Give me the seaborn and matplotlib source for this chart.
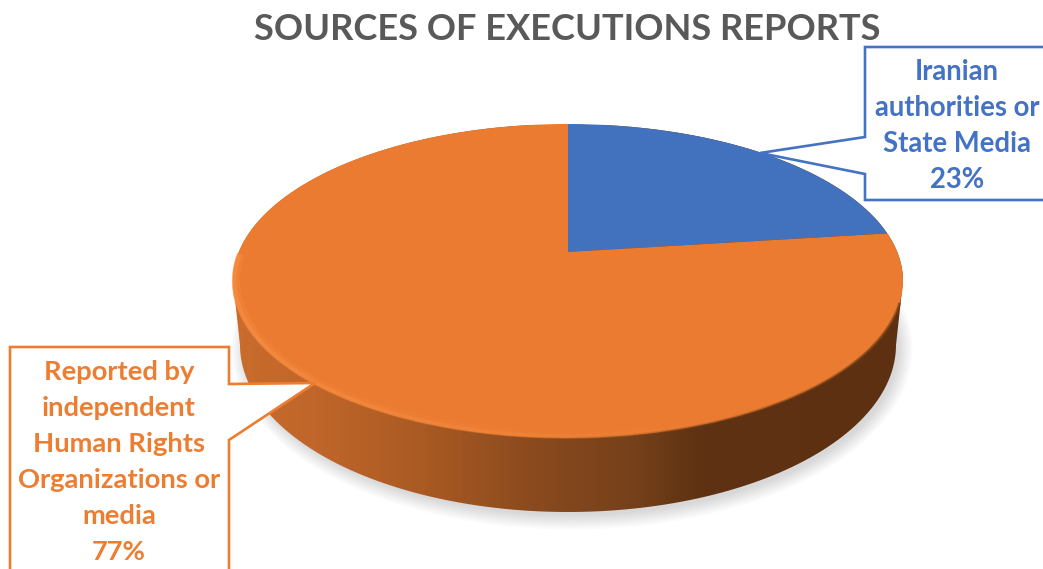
import numpy as np
import seaborn as sns
import matplotlib
matplotlib.use("Agg")
import matplotlib.pyplot as plt
from matplotlib.collections import LineCollection
from matplotlib.colors import LinearSegmentedColormap, to_rgb
from matplotlib.patches import Ellipse, PathPatch, Polygon
from matplotlib.path import Path
from matplotlib.transforms import Affine2D, Transform

title = "SOURCES OF EXECUTIONS REPORTS"
shares = [23, 77]
blue_lines = ["Iranian", "authorities or", "State Media"]
orange_lines = ["Reported by", "independent", "Human Rights", "Organizations or", "media"]

BLUE = "#4271BE"
ORANGE = "#EA7B30"
LINE_ORANGE = "#ED7D31"
TITLE_GREY = "#595959"
TILT = 0.185


class TiltTransform(Transform):
    # perspective of the unit disc: keeps the rim, moves the centre up
    input_dims = 2
    output_dims = 2
    has_inverse = False

    def transform_non_affine(self, values):
        values = np.asarray(values)
        d = 1 + TILT * values[:, 1]
        return np.column_stack([values[:, 0] * np.sqrt(1 - TILT ** 2) / d, (values[:, 1] + TILT) / d])


def ellipse_xy(cx, cy, rx, ry, deg):
    t = np.radians(deg)
    return np.column_stack([cx + rx * np.cos(t), cy - ry * np.sin(t)])


sns.set_theme(style="white")
plt.rcParams["font.family"] = ["Lato", "DejaVu Sans"]

fig = plt.figure(figsize=(10.43, 5.69), dpi=100)
ax = fig.add_axes([0, 0, 1, 1])

# top face
wedges, _ = ax.pie(shares, colors=sns.color_palette([BLUE, ORANGE]), startangle=90, counterclock=False)
to_px = Affine2D().scale(335, -157).translate(568, 281)
for w in wedges:
    w.set_transform(TiltTransform() + to_px + ax.transData)
    w.set_zorder(3)
    w.set_linewidth(0)

# soft shadow under the disc
for i in range(10):
    ax.add_patch(Ellipse((572, 349), 2 * (326 + i * 1.6), 2 * (166 + i * 1.6),
                         color="#707070", alpha=0.028, lw=0, zorder=1))

# side wall with horizontal shading
side_path = Path(np.vstack([ellipse_xy(568, 281, 335, 157, np.linspace(0, 180, 120)),
                            ellipse_xy(568, 345, 328, 167, np.linspace(180, 360, 120))]), closed=False)
side_cmap = LinearSegmentedColormap.from_list("side", [
    (0.00, "#C96C2D"), (0.12, "#C0662A"), (0.28, "#AA5A23"), (0.45, "#8A4A1E"),
    (0.60, "#75401A"), (0.70, "#5E3212"), (1.00, "#5C3011")])
im = ax.imshow(np.linspace(0, 1, 300)[None, :], cmap=side_cmap, extent=(233, 903, 512, 125),
               aspect="auto", zorder=2)
im.set_clip_path(PathPatch(side_path, transform=ax.transData))

# bevel along the front rim
deg = np.linspace(170, 352, 220)
f = (deg[:-1] - 170) / 182
hi = np.array(to_rgb("#F58A3F"))
for rx, ry, lw, strength in [(332, 154, 6.0, 0.45), (333.5, 155.5, 3.0, 1.0)]:
    pts = ellipse_xy(568, 281, rx, ry, deg)
    cols = np.zeros((len(f), 4))
    cols[:, :3] = hi
    cols[:, 3] = strength * np.clip(1.15 - f * 1.5, 0, 1)
    ax.add_collection(LineCollection(np.stack([pts[:-1], pts[1:]], axis=1), colors=cols,
                                     linewidths=lw, capstyle="butt", zorder=4))
pts2 = ellipse_xy(568, 281, 335, 157, deg)
cols2 = np.zeros((len(f), 4))
cols2[:, :3] = np.array(to_rgb("#7A4218"))
cols2[:, 3] = np.clip((f - 0.5) * 1.6, 0, 0.7)
ax.add_collection(LineCollection(np.stack([pts2[:-1], pts2[1:]], axis=1), colors=cols2,
                                 linewidths=2.0, capstyle="butt", zorder=4))

# callouts
ax.add_patch(Polygon([(865, 47), (1060, 47), (1060, 200), (865, 200), (865, 174), (760, 153), (865, 137)],
                     closed=True, fc="white", ec="#4472C4", lw=1.9, joinstyle="miter", zorder=5))
ax.add_patch(Polygon([(10, 347), (229, 347), (229, 384), (315, 383), (229, 440), (229, 590), (10, 590)],
                     closed=True, fc="white", ec=LINE_ORANGE, lw=1.9, joinstyle="miter", zorder=5))

for i, line in enumerate(blue_lines + [f"{shares[0]}%"]):
    ax.text(957, 72 + 36 * i, line, color="#4472C4", fontsize=19.8, fontweight="bold",
            ha="center", va="center", zorder=6)
for i, line in enumerate(orange_lines + [f"{shares[1]}%"]):
    ax.text(119, 372 + 36 * i, line, color=LINE_ORANGE, fontsize=19.7, fontweight="bold",
            ha="center", va="center", zorder=6)

ax.text(567, 29, title, color=TITLE_GREY, fontsize=26.1, fontweight="bold", ha="center", va="center", zorder=6)

ax.set_aspect("auto")
ax.set_xlim(0, 1043)
ax.set_ylim(569, 0)
ax.axis("off")

fig.savefig("out.png", dpi=100, facecolor="white")
